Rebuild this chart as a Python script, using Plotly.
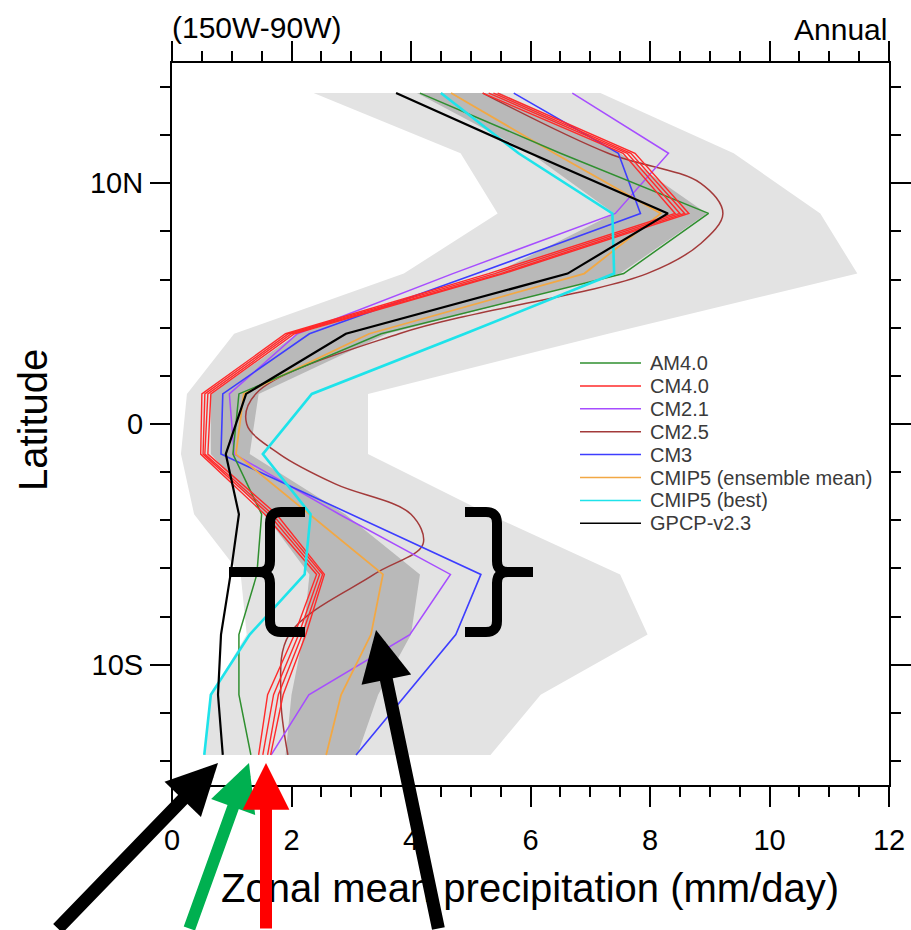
import plotly.graph_objects as go

# ---------------- data ----------------
lat = [13.75, 11.25, 8.75, 6.25, 3.75, 1.25, -1.25, -3.75, -6.25, -8.75, -11.25, -13.75]

gpcp = [3.75, 6.0, 8.3, 6.62, 2.91, 1.24, 0.9, 1.12, 0.98, 0.82, 0.77, 0.85]
cmip5_best = [4.5, 5.8, 7.37, 7.4, 4.9, 2.34, 1.52, 2.32, 2.22, 1.3, 0.65, 0.54]
cmip5_mean = [4.67, 6.4, 8.18, 6.9, 3.3, 1.2, 1.07, 2.3, 3.53, 3.33, 2.83, 2.58]
am4 = [4.15, 6.5, 8.98, 7.56, 3.5, 1.12, 1.02, 1.5, 1.42, 1.12, 1.12, 1.32]
cm21 = [6.7, 8.31, 7.42, 4.7, 2.1, 0.96, 1.04, 2.8, 4.66, 3.98, 2.29, 1.66]
cm3 = [5.72, 7.47, 7.84, 5.1, 2.3, 0.85, 0.82, 3.0, 5.17, 4.75, 3.92, 3.08]
cm4_members = [
    [5.2, 7.55, 8.42, 5.3, 1.9, 0.5, 0.48, 1.55, 2.42, 2.05, 1.6, 1.45],
    [5.3, 7.62, 8.5, 5.4, 1.95, 0.55, 0.52, 1.62, 2.47, 2.12, 1.7, 1.52],
    [5.38, 7.68, 8.58, 5.5, 2.0, 0.6, 0.55, 1.68, 2.52, 2.18, 1.78, 1.6],
    [5.45, 7.75, 8.65, 5.55, 2.05, 0.65, 0.6, 1.75, 2.55, 2.24, 1.86, 1.65],
]
cm25_lat = [13.75, 11.25, 10.0, 8.75, 7.5, 6.25, 3.75, 1.25, 0.0, -1.25, -2.5, -3.75,
            -5.0, -6.25, -8.75, -11.25, -13.75]
cm25 = [5.2, 7.3, 8.85, 9.22, 8.85, 7.95, 3.8, 1.4, 1.25, 1.8, 2.74, 4.0,
        4.2, 3.38, 1.96, 1.82, 1.94]

# CMIP5 spread (light = full range, dark = inner spread)
range_lo = [2.37, 4.83, 5.45, 3.88, 1.04, 0.25, 0.15, 0.37, 1.15, 1.25, 0.65, 0.54]
range_hi = [7.17, 9.4, 10.85, 11.47, 7.3, 3.28, 3.28, 5.3, 7.5, 7.96, 6.17, 5.33]
spread_lo = [4.1, 6.0, 7.4, 5.4, 2.1, 0.65, 0.65, 1.55, 2.3, 2.2, 2.0, 1.9]
spread_hi = [5.5, 7.5, 8.95, 7.5, 3.6, 1.45, 1.3, 2.9, 4.15, 4.0, 3.45, 3.1]

names = ["AM4.0", "CM4.0", "CM2.1", "CM2.5", "CM3", "CMIP5 (ensemble mean)",
         "CMIP5 (best)", "GPCP-v2.3"]
colors = ["#2f8f2f", "#ff2a2a", "#a64dff", "#a33a3a", "#3d3dff", "#f2a844",
          "#1ee3ea", "#000000"]

x_ticks = [0, 2, 4, 6, 8, 10, 12]
y_tickvals = [10, 0, -10]
y_ticktext = ["10N", "0", "10S"]

FONT = "Liberation Sans, Arial, Helvetica, sans-serif"

# ---------------- figure ----------------
fig = go.Figure()

fig.add_trace(go.Scatter(x=range_lo + range_hi[::-1], y=lat + lat[::-1], fill="toself",
                         fillcolor="#e3e3e3", mode="lines", line=dict(width=0),
                         hoverinfo="skip", showlegend=False))
fig.add_trace(go.Scatter(x=spread_lo + spread_hi[::-1], y=lat + lat[::-1], fill="toself",
                         fillcolor="#b9b9b9", mode="lines", line=dict(width=0),
                         hoverinfo="skip", showlegend=False))

def line(x, y, color, width, shape="linear"):
    fig.add_trace(go.Scatter(x=x, y=y, mode="lines", showlegend=False,
                             line=dict(color=color, width=width, shape=shape)))

line(cm25, cm25_lat, colors[3], 1.5, "spline")
line(cm21, lat, colors[2], 1.5)
line(cm3, lat, colors[4], 1.6)
line(cmip5_mean, lat, colors[5], 1.8)
line(am4, lat, colors[0], 1.5)
for m in cm4_members:
    line(m, lat, colors[1], 1.4)
line(cmip5_best, lat, colors[6], 2.6)
line(gpcp, lat, colors[7], 2.2)

# ---------------- layout ----------------
L, R, T, B = 172, 889, 63, 785
W, H = 911, 930

def px(x):
    return (x - L) / (R - L)

def py(y):
    return (B - y) / (B - T)

axis_common = dict(showline=True, linecolor="black", linewidth=2, mirror="allticks",
                   ticks="outside", ticklen=20, tickwidth=2, tickcolor="black",
                   showgrid=False, zeroline=False, automargin=False,
                   tickfont=dict(family=FONT, size=29, color="black"))

fig.update_layout(
    width=W, height=H,
    margin=dict(l=L, r=W - R, t=T, b=H - B, autoexpand=False),
    paper_bgcolor="white", plot_bgcolor="white",
    showlegend=False,
    xaxis=dict(range=[0, 12], tickvals=x_ticks, ticklabelstandoff=8,
               minor=dict(dtick=0.5, tick0=0, ticks="outside", ticklen=10,
                          tickwidth=1.5, tickcolor="black"),
               **axis_common),
    yaxis=dict(range=[-15, 15], tickvals=y_tickvals, ticktext=y_ticktext,
               ticklabelstandoff=1,
               minor=dict(dtick=2, tick0=0, ticks="outside", ticklen=10,
                          tickwidth=1.5, tickcolor="black"),
               **axis_common),
)

ann = []
shapes = []
# titles
ann.append(dict(text="(150W-90W)", x=px(170), y=py(27), xref="paper", yref="paper",
                xanchor="left", yanchor="middle", showarrow=False,
                font=dict(family=FONT, size=30, color="black")))
ann.append(dict(text="Annual", x=1, y=py(29), xref="paper", yref="paper",
                xanchor="right", yanchor="middle", showarrow=False,
                font=dict(family=FONT, size=30, color="black")))
ann.append(dict(text="Latitude", x=px(33), y=py(420), xref="paper", yref="paper",
                xanchor="center", yanchor="middle", textangle=-90, showarrow=False,
                font=dict(family=FONT, size=40, color="black")))
ann.append(dict(text="Zonal mean precipitation (mm/day)", x=px(530), y=py(888),
                xref="paper", yref="paper", xanchor="center", yanchor="middle",
                showarrow=False, font=dict(family=FONT, size=40, color="black")))

# legend (drawn manually)
for i, (n, c) in enumerate(zip(names, colors)):
    yy = py(363 + 22.9 * i)
    shapes.append(dict(type="line", xref="paper", yref="paper", x0=px(580), x1=px(641),
                       y0=yy, y1=yy, line=dict(color=c, width=1.5)))
    ann.append(dict(text=n, x=px(648), y=yy, xref="paper", yref="paper",
                    xanchor="left", yanchor="middle", showarrow=False,
                    font=dict(family=FONT, size=20, color="#3a3a3a")))

# brackets
def path(pts):
    out = []
    for p in pts:
        c = p[0]
        if c in "ML":
            out.append(f"{c} {px(p[1]):.5f},{py(p[2]):.5f}")
        else:
            out.append(f"{c} {px(p[1]):.5f},{py(p[2]):.5f} {px(p[3]):.5f},{py(p[4]):.5f}")
    return " ".join(out)

left_br = [("M", 305, 512), ("L", 281, 512), ("Q", 270, 512, 270, 523), ("L", 270, 561),
           ("Q", 270, 572, 259, 572), ("L", 229, 572), ("M", 259, 572),
           ("Q", 270, 572, 270, 583), ("L", 270, 621), ("Q", 270, 632, 281, 632),
           ("L", 305, 632)]
right_br = [("M", 465, 512), ("L", 486, 512), ("Q", 497, 512, 497, 523), ("L", 497, 561),
            ("Q", 497, 572, 508, 572), ("L", 533, 572), ("M", 508, 572),
            ("Q", 497, 572, 497, 583), ("L", 497, 621), ("Q", 497, 632, 486, 632),
            ("L", 465, 632)]
for br in (left_br, right_br):
    shapes.append(dict(type="path", xref="paper", yref="paper", path=path(br),
                       line=dict(color="black", width=10)))

# arrows
arrows = [((218, 763), (81, 930), "black", 13),
          ((249, 763), (198, 930), "#00b050", 12),
          ((266, 763), (266, 930), "#ff0000", 12),
          ((376, 630), (433, 930), "black", 13)]
for (hx, hy), (tx, ty), c, w in arrows:
    sx, sy = tx - hx, ty - hy
    f = (sy + 30) / sy
    ann.append(dict(text="", x=px(hx), y=py(hy), xref="paper", yref="paper",
                    ax=sx * f, ay=sy * f, showarrow=True, arrowhead=2,
                    arrowsize=0.78, arrowwidth=w, arrowcolor=c))

fig.update_layout(annotations=ann, shapes=shapes)

fig.write_html("out.html")
